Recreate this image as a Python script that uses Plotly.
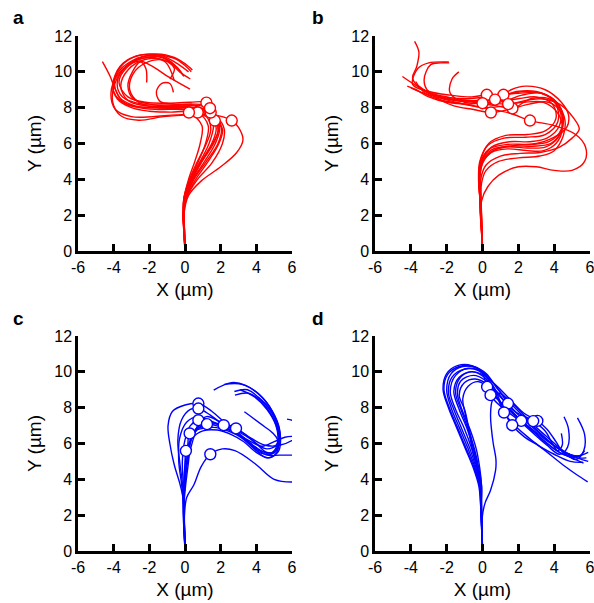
import plotly.graph_objects as go

RED = "#ff0000"
BLUE = "#0000ff"

X_TICKS = [-6, -4, -2, 0, 2, 4, 6]
X_TICK_TEXT = ["-6", "-4", "-2", "0", "2", "4", "6"]
Y_TICKS = [0, 2, 4, 6, 8, 10, 12]
Y_TICK_TEXT = ["0", "2", "4", "6", "8", "10", "12"]
PANEL_LABELS = ["a", "b", "c", "d"]

# ---- panel a: tracks (x, y in µm) and index of the marked point on each ----
A_TRACKS = [
    [(0, 0), (-0.02, 1.0), (-0.05, 2.1), (0.2, 3.1), (0.9, 3.9), (2.0, 4.7), (2.9, 5.5), (3.25, 6.2), (3.0, 6.9),
     (2.62, 7.28), (1.6, 7.6), (0.2, 7.6), (-1.2, 7.5), (-2.6, 7.3), (-3.6, 7.55), (-4.05, 8.3), (-3.95, 9.3),
     (-3.4, 10.2), (-2.4, 10.75), (-1.3, 10.8), (-0.5, 10.3), (-0.1, 9.8)],
    [(0, 0), (-0.05, 1.0), (-0.1, 2.1), (0.1, 3.0), (0.6, 4.0), (1.3, 5.0), (1.9, 6.0), (2.1, 6.8), (1.67, 7.28),
     (0.8, 7.85), (-0.5, 8.0), (-2.0, 8.0), (-3.3, 8.2), (-4.0, 8.9), (-3.8, 9.9), (-3.0, 10.6), (-1.8, 10.95),
     (-0.6, 10.75), (0.0, 10.35), (0.35, 10.0)],
    [(0, 0), (-0.04, 1.0), (-0.08, 2.1), (0.05, 3.0), (0.45, 4.0), (1.1, 5.0), (1.7, 6.0), (1.95, 6.9), (1.65, 7.5),
     (1.44, 7.73), (0.5, 8.1), (-1.0, 8.15), (-2.4, 8.2), (-3.5, 8.6), (-3.8, 9.4), (-3.3, 10.3), (-2.3, 10.85),
     (-1.2, 10.8), (-0.4, 10.2), (-0.06, 9.74)],
    [(0, 0), (-0.03, 1.0), (-0.06, 2.1), (0.0, 3.0), (0.35, 4.0), (0.9, 5.0), (1.5, 6.0), (1.75, 6.8), (1.55, 7.6),
     (1.2, 8.28), (0.3, 8.3), (-1.0, 8.25), (-2.2, 8.3), (-3.2, 8.6), (-3.7, 9.4), (-3.3, 10.2), (-2.6, 10.6),
     (-1.9, 10.35), (-0.9, 9.7), (0.28, 9.03)],
    [(0, 0), (-0.06, 1.0), (-0.12, 2.1), (-0.05, 3.0), (0.3, 4.0), (0.75, 5.0), (1.15, 6.0), (1.3, 7.0), (0.71, 7.73),
     (-0.2, 7.9), (-1.5, 7.9), (-2.6, 8.0), (-3.5, 8.35), (-3.9, 9.0), (-4.2, 9.75), (-4.63, 10.57)],
    [(0, 0), (-0.05, 1.0), (-0.1, 2.1), (-0.05, 3.0), (0.2, 4.0), (0.55, 5.0), (0.85, 6.0), (0.95, 7.0), (0.22, 7.73),
     (-0.8, 7.75), (-2.0, 7.8), (-3.0, 8.0), (-3.8, 8.5), (-4.05, 9.3), (-3.6, 10.3), (-2.8, 10.85), (-1.6, 11.0),
     (-0.6, 10.8), (0.2, 10.3), (0.41, 10.1)],
    [(0, 0), (-0.02, 1.0), (-0.05, 2.1), (0.08, 3.0), (0.5, 4.0), (1.2, 5.0), (1.85, 6.0), (2.05, 6.9), (1.7, 7.6),
     (1.4, 7.97), (0.5, 8.15), (-0.6, 8.2), (-1.4, 8.35), (-1.6, 8.9), (-1.3, 9.35), (-0.85, 9.35), (-0.65, 8.85)],
    [(0, 0), (-0.04, 1.0), (-0.08, 2.1), (0.0, 3.0), (0.4, 4.0), (0.95, 5.0), (1.6, 6.0), (1.9, 6.9), (1.65, 7.7),
     (1.3, 8.1), (0.4, 8.2), (-1.0, 8.1), (-2.0, 8.2), (-2.9, 8.5), (-3.2, 9.2), (-2.95, 10.0), (-2.5, 10.55),
     (-2.2, 10.2), (-2.15, 9.4)],
    [(0, 0), (-0.03, 1.0), (-0.07, 2.1), (0.0, 3.0), (0.3, 4.0), (0.85, 5.0), (1.35, 6.0), (1.6, 7.0), (1.4, 7.7),
     (0.2, 8.05), (-1.5, 8.0), (-2.8, 8.1), (-3.7, 8.6), (-3.95, 9.6), (-3.45, 10.5), (-2.4, 10.95), (-1.3, 10.9),
     (-0.5, 10.5), (0.2, 10.0)],
    [(0, 0), (-0.05, 1.0), (-0.09, 2.1), (0.1, 3.0), (0.7, 4.0), (1.5, 4.9), (2.1, 6.0), (2.2, 6.8), (1.85, 7.4),
     (0.6, 7.95), (-0.8, 8.05), (-2.2, 8.1), (-3.2, 8.4), (-3.6, 9.2), (-3.2, 10.1), (-2.2, 10.7), (-1.0, 10.6),
     (-0.3, 10.0), (0.3, 9.6)],
    [(0, 0), (-0.04, 1.0), (-0.1, 2.1), (-0.05, 3.0), (0.25, 4.0), (0.7, 5.0), (1.2, 6.0), (1.45, 6.8), (1.2, 7.5),
     (0.3, 7.85), (-0.6, 7.95), (-1.6, 8.0), (-2.6, 8.3), (-3.1, 9.0), (-2.9, 9.9), (-2.2, 10.5), (-1.2, 10.65),
     (-0.6, 10.2), (-0.85, 9.6)],
    [(0, 0), (-0.03, 1.0), (-0.06, 2.1), (0.02, 3.0), (0.4, 4.0), (0.95, 5.0), (1.55, 6.0), (1.85, 6.7), (1.65, 7.3),
     (0.8, 7.6), (-0.5, 7.6), (-1.8, 7.5), (-3.0, 7.5), (-3.9, 7.9), (-4.15, 8.8), (-3.8, 9.8), (-3.0, 10.5),
     (-2.0, 10.8), (-1.1, 10.55), (-0.6, 9.5)],
]
A_MARKS = [9, 8, 9, 9, 8, 8, 9, None, None, None, None, None]

# ---- panel b ----
B_TRACKS = [
    [(0, 0), (-0.03, 1.0), (-0.06, 2.0), (-0.05, 2.8), (0.3, 3.6), (0.93, 4.25), (2.0, 4.7), (3.0, 4.7), (4.0, 4.5),
     (5.0, 4.5), (5.7, 5.0), (5.75, 5.8), (5.2, 6.5), (4.0, 7.0), (2.65, 7.28), (1.5, 7.7), (0.0, 8.0), (-1.5, 8.3),
     (-2.8, 8.7), (-3.55, 9.2)],
    [(0, 0), (-0.05, 1.0), (-0.12, 2.0), (-0.15, 3.0), (-0.2, 4.0), (-0.1, 4.8), (0.4, 5.5), (1.3, 5.8), (2.5, 5.75),
     (3.5, 5.8), (4.2, 6.3), (4.5, 7.2), (4.3, 8.1), (3.6, 8.7), (2.5, 8.9), (1.6, 8.8), (1.17, 8.72), (0.2, 8.6),
     (-1.0, 8.5), (-2.2, 8.6), (-3.2, 8.9), (-3.9, 9.64), (-3.67, 10.3), (-3.55, 11.1), (-3.79, 11.7)],
    [(0, 0), (-0.04, 1.0), (-0.1, 2.0), (-0.15, 3.0), (-0.2, 4.0), (-0.05, 5.0), (0.5, 5.8), (1.5, 6.1), (2.6, 6.1),
     (3.6, 6.3), (4.3, 7.0), (4.3, 7.9), (3.7, 8.5), (2.7, 8.5), (1.67, 7.96), (0.8, 8.1), (-0.5, 8.3), (-2.0, 8.5),
     (-3.3, 9.0), (-4.47, 9.74)],
    [(0, 0), (-0.03, 1.0), (-0.08, 2.0), (-0.12, 3.0), (-0.15, 4.0), (0.0, 4.9), (0.5, 5.5), (1.4, 5.7), (2.5, 5.6),
     (3.4, 5.6), (4.1, 6.0), (4.45, 6.8), (4.2, 7.7), (3.4, 8.3), (2.3, 8.3), (1.43, 8.2), (0.5, 8.25), (-0.8, 8.4),
     (-2.0, 8.6), (-3.0, 8.9), (-3.26, 9.55), (-2.89, 10.4), (-2.33, 10.5), (-1.86, 10.5)],
    [(0, 0), (-0.05, 1.0), (-0.11, 2.0), (-0.15, 3.0), (-0.22, 4.0), (-0.15, 5.0), (0.3, 5.9), (1.2, 6.3), (2.4, 6.35),
     (3.5, 6.5), (4.2, 7.2), (4.1, 8.2), (3.3, 8.8), (2.0, 8.8), (0.9, 8.7), (0.24, 8.72), (-0.6, 8.6), (-1.8, 8.7),
     (-3.0, 8.9), (-3.9, 9.3), (-3.6, 10.2), (-3.0, 10.5), (-1.88, 10.55)],
    [(0, 0), (-0.02, 1.0), (-0.05, 2.0), (-0.08, 3.0), (-0.05, 3.8), (0.2, 4.5), (0.9, 5.0), (2.0, 5.2), (3.2, 5.3),
     (4.0, 5.6), (4.5, 6.4), (4.6, 7.3), (4.2, 8.2), (3.3, 8.8), (2.2, 8.7), (1.2, 8.35), (0.0, 8.25), (-1.0, 8.3),
     (-1.8, 8.8), (-1.7, 9.6), (-1.32, 10.0)],
    [(0, 0), (-0.04, 1.0), (-0.1, 2.0), (-0.15, 3.0), (-0.2, 4.0), (-0.1, 5.0), (0.4, 5.7), (1.4, 5.95), (2.6, 5.95),
     (3.7, 6.1), (4.4, 6.8), (4.4, 7.7), (3.7, 8.3), (2.6, 8.2), (1.5, 7.9), (0.47, 7.73), (-0.5, 7.9), (-1.6, 8.1),
     (-2.3, 8.4), (-2.9, 8.8)],
    [(0, 0), (-0.03, 1.0), (-0.07, 2.0), (-0.1, 3.0), (-0.15, 4.2), (0.1, 5.1), (0.8, 5.7), (1.9, 5.9), (3.0, 6.0),
     (3.9, 6.3), (4.7, 6.9), (4.8, 7.6), (4.4, 8.3), (3.5, 9.0), (2.4, 9.2), (1.6, 9.0), (0.7, 8.45), (-0.3, 8.4),
     (-1.5, 8.4), (-2.6, 8.6), (-3.4, 8.85), (-4.0, 9.1)],
    [(0, 0), (-0.02, 1.0), (-0.06, 2.0), (-0.1, 3.0), (-0.1, 4.0), (0.2, 4.8), (1.0, 5.3), (2.1, 5.45), (3.2, 5.5),
     (4.3, 5.8), (5.0, 6.3), (5.4, 6.8), (5.1, 7.4), (4.3, 8.2), (3.2, 8.5), (2.2, 8.35), (1.2, 8.1), (0.2, 8.0),
     (-1.0, 8.2), (-2.2, 8.4), (-3.2, 8.8), (-3.73, 9.46)],
    [(0, 0), (-0.05, 1.0), (-0.1, 2.0), (-0.12, 3.0), (-0.18, 4.0), (-0.05, 5.0), (0.5, 5.65), (1.6, 5.85), (2.8, 5.85),
     (3.8, 6.0), (4.35, 6.6), (4.5, 7.5), (4.0, 8.4), (3.0, 8.9), (1.9, 8.9), (1.0, 8.6), (0.2, 8.45), (-1.0, 8.35),
     (-1.8, 8.5), (-2.4, 8.6)],
    [(0, 0), (-0.04, 1.0), (-0.09, 2.0), (-0.13, 3.0), (-0.2, 4.0), (-0.12, 5.0), (0.35, 6.0), (1.3, 6.45), (2.5, 6.5),
     (3.5, 6.7), (4.1, 7.4), (3.9, 8.2), (3.0, 8.6), (2.0, 8.5), (1.2, 8.4), (0.3, 8.3), (-0.9, 8.2), (-2.0, 8.3),
     (-3.0, 8.6), (-3.7, 9.0), (-4.2, 9.2)],
]
B_MARKS = [14, 16, 14, 15, 15, 16, 15, 16, None, None, None]

# ---- panel c ----
C_TRACKS = [
    [(0, 0), (-0.03, 1.0), (-0.08, 2.0), (-0.12, 3.0), (-0.3, 3.8), (-0.6, 4.8), (-0.85, 6.0), (-0.95, 7.0),
     (-0.7, 7.8), (0.0, 8.15), (0.75, 8.23), (1.5, 7.8), (2.3, 7.1), (3.1, 6.5), (3.9, 5.8), (4.6, 5.35), (5.3, 5.35),
     (6.2, 5.35)],
    [(0, 0), (-0.04, 1.0), (-0.07, 2.0), (-0.1, 3.0), (-0.15, 3.8), (-0.3, 5.0), (-0.4, 6.2), (-0.2, 7.3), (0.3, 7.9),
     (0.75, 7.95), (1.4, 7.6), (2.2, 7.0), (3.0, 6.5), (3.9, 6.0), (4.6, 5.7), (5.1, 5.9), (5.3, 6.6), (5.0, 7.6),
     (4.3, 8.6), (3.4, 9.25), (2.6, 9.4), (1.61, 8.98)],
    [(0, 0), (-0.02, 1.0), (-0.06, 2.0), (-0.08, 3.0), (-0.1, 3.8), (-0.15, 5.0), (0.0, 6.2), (0.3, 7.0), (0.75, 7.3),
     (1.3, 7.3), (2.0, 7.0), (2.8, 6.6), (3.6, 6.0), (4.3, 5.45), (5.0, 5.5), (5.25, 6.3), (5.0, 7.3), (4.4, 8.2),
     (3.6, 8.8), (2.8, 8.7)],
    [(0, 0), (-0.03, 1.0), (-0.05, 2.0), (-0.05, 3.0), (0.0, 3.8), (0.1, 5.0), (0.3, 6.2), (0.7, 6.9), (1.23, 7.08),
     (1.9, 6.95), (2.6, 6.7), (3.4, 6.2), (4.2, 5.6), (4.9, 5.5), (5.2, 6.1), (5.1, 7.0), (4.6, 7.9), (3.9, 8.6),
     (3.1, 9.0)],
    [(0, 0), (-0.02, 1.0), (-0.04, 2.0), (-0.03, 3.0), (0.05, 3.8), (0.2, 5.0), (0.35, 6.2), (0.8, 6.9), (1.5, 7.15),
     (2.17, 7.02), (2.9, 6.7), (3.6, 6.3), (4.3, 5.85), (5.0, 6.1), (5.6, 6.35), (6.2, 6.4)],
    [(0, 0), (-0.03, 1.0), (-0.06, 2.0), (-0.06, 3.0), (0.0, 3.8), (0.1, 5.0), (0.3, 6.1), (0.7, 6.8), (1.4, 7.05),
     (2.2, 7.1), (2.86, 6.84), (3.4, 6.5), (4.0, 6.0), (4.6, 5.5), (5.1, 5.6), (5.3, 6.3), (5.1, 7.2), (4.7, 8.0),
     (4.1, 8.6)],
    [(0, 0), (-0.02, 1.0), (-0.05, 2.0), (-0.05, 3.0), (-0.05, 3.8), (0.0, 4.8), (0.15, 5.8), (0.26, 6.56),
     (0.8, 6.8), (1.6, 6.9), (2.4, 6.7), (3.2, 6.3), (4.0, 5.6), (4.6, 5.2), (5.2, 5.5), (5.35, 6.4), (5.0, 7.5),
     (4.3, 8.4), (3.5, 9.0), (2.77, 8.9)],
    [(0, 0), (-0.04, 1.0), (-0.07, 2.0), (-0.06, 3.0), (-0.05, 3.8), (0.0, 4.8), (0.05, 5.59), (0.4, 6.3),
     (1.0, 6.7), (1.8, 6.75), (2.6, 6.5), (3.3, 6.1), (4.0, 5.5), (4.7, 5.2), (5.15, 5.5), (5.2, 6.2), (4.9, 6.6),
     (4.45, 6.95), (3.33, 7.77)],
    [(0, 0), (-0.02, 1.0), (-0.03, 2.0), (0.1, 3.0), (0.5, 3.7), (0.9, 4.7), (1.42, 5.4), (2.1, 5.7), (2.8, 5.6),
     (3.9, 4.9), (5.0, 4.0), (6.1, 3.85)],
    [(0, 0), (-0.03, 1.0), (-0.05, 2.0), (-0.04, 3.0), (0.0, 3.8), (0.15, 5.0), (0.45, 6.2), (0.75, 7.1), (1.2, 7.5),
     (2.0, 7.2), (2.9, 6.8), (3.7, 6.3), (4.5, 5.9), (5.3, 5.9), (6.3, 6.4), (6.6, 7.0), (5.72, 7.36)],
    [(0, 0), (-0.05, 1.0), (-0.1, 2.0), (-0.12, 3.0), (-0.2, 3.8), (-0.35, 5.0), (-0.3, 6.3), (0.1, 7.2), (0.75, 7.5),
     (1.5, 7.2), (2.4, 6.8), (3.3, 6.3), (4.1, 5.7), (4.8, 5.4), (5.25, 5.8), (5.3, 6.8), (4.9, 7.8), (4.2, 8.7),
     (3.2, 9.3), (2.2, 9.3)],
]
C_MARKS = [10, 9, 8, 8, 9, 10, 7, 6, 6, None, None]

# ---- panel d ----
D_TRACKS = [
    [(0, 0), (-0.04, 1.0), (-0.08, 2.0), (-0.12, 2.8), (-0.2, 3.6), (-0.5, 4.6), (-0.95, 5.7), (-1.45, 6.9),
     (-1.9, 8.0), (-2.2, 9.0), (-2.0, 9.9), (-1.4, 10.35), (-0.6, 10.35), (0.0, 9.9), (0.26, 9.16), (0.8, 8.5),
     (1.6, 7.8), (2.5, 7.0), (3.4, 6.2), (4.3, 5.5), (5.0, 5.2), (5.64, 4.9)],
    [(0, 0), (-0.03, 1.0), (-0.07, 2.0), (-0.1, 2.8), (-0.15, 3.6), (-0.4, 4.6), (-0.8, 5.7), (-1.3, 6.9),
     (-1.75, 8.0), (-2.0, 9.0), (-1.75, 9.9), (-1.1, 10.3), (-0.3, 10.2), (0.3, 9.6), (0.45, 8.7), (1.1, 8.0),
     (1.9, 7.4), (2.8, 6.6), (3.6, 5.9), (4.3, 5.4), (4.75, 5.8), (4.8, 6.8), (4.55, 7.49)],
    [(0, 0), (-0.02, 1.0), (-0.05, 2.0), (-0.08, 2.8), (-0.1, 3.6), (-0.3, 4.6), (-0.6, 5.7), (-1.0, 6.8),
     (-1.5, 7.9), (-1.8, 8.9), (-1.5, 9.8), (-0.8, 10.2), (0.0, 10.0), (0.6, 9.4), (1.1, 8.7), (1.42, 8.23),
     (2.0, 7.6), (2.8, 6.9), (3.6, 6.2), (4.4, 5.6), (5.2, 5.1), (5.65, 5.6), (5.7, 6.5), (5.3, 7.43)],
    [(0, 0), (-0.04, 1.0), (-0.06, 2.0), (-0.09, 2.8), (-0.1, 3.6), (-0.25, 4.6), (-0.5, 5.7), (-0.85, 6.8),
     (-1.3, 7.9), (-1.6, 8.9), (-1.3, 9.7), (-0.6, 10.0), (0.1, 9.7), (0.6, 9.0), (0.9, 8.4), (1.2, 7.73),
     (1.8, 7.0), (2.6, 6.3), (3.5, 5.6), (4.5, 4.8), (5.2, 4.3), (5.87, 3.86)],
    [(0, 0), (-0.02, 1.0), (-0.04, 2.0), (-0.05, 2.8), (-0.05, 3.6), (-0.15, 4.6), (-0.35, 5.7), (-0.7, 6.8),
     (-1.15, 7.9), (-1.4, 8.8), (-1.2, 9.5), (-0.5, 9.8), (0.2, 9.5), (0.8, 8.9), (1.5, 8.0), (2.16, 7.26),
     (2.9, 6.6), (3.7, 5.9), (4.5, 5.4), (5.2, 5.2), (5.8, 5.2)],
    [(0, 0), (-0.03, 1.0), (-0.06, 2.0), (-0.1, 2.8), (-0.1, 3.6), (-0.35, 4.6), (-0.7, 5.7), (-1.15, 6.8),
     (-1.6, 7.9), (-1.9, 8.8), (-1.7, 9.7), (-1.0, 10.15), (-0.2, 10.05), (0.6, 9.2), (1.0, 8.3), (1.35, 7.5),
     (1.66, 7.02), (2.3, 6.4), (3.1, 5.9), (4.0, 5.4), (4.9, 5.0), (5.6, 4.95)],
    [(0, 0), (-0.02, 1.0), (-0.05, 2.0), (-0.06, 2.8), (-0.05, 3.6), (-0.2, 4.6), (-0.45, 5.7), (-0.8, 6.8),
     (-1.2, 7.9), (-1.5, 8.8), (-1.3, 9.6), (-0.7, 10.0), (0.0, 9.85), (0.7, 9.3), (1.5, 8.5), (2.3, 7.7),
     (3.06, 7.26), (3.6, 6.8), (4.1, 6.1), (4.5, 5.5), (4.9, 5.3), (5.5, 5.3)],
    [(0, 0), (-0.03, 1.0), (-0.05, 2.0), (-0.07, 2.8), (-0.08, 3.6), (-0.25, 4.6), (-0.5, 5.7), (-0.75, 6.8),
     (-1.0, 7.9), (-1.3, 8.7), (-1.0, 9.4), (-0.4, 9.6), (0.3, 9.3), (1.0, 8.6), (1.8, 7.8), (2.83, 7.25),
     (3.5, 6.7), (3.9, 6.0), (4.2, 5.6), (4.45, 5.9), (4.4, 6.56)],
    [(0, 0), (-0.02, 1.0), (0.0, 2.0), (0.15, 2.7), (0.45, 3.39), (0.73, 4.5), (0.75, 5.1), (0.6, 6.0), (0.5, 6.8),
     (0.45, 7.6), (0.55, 8.4), (0.9, 8.8), (1.5, 8.4), (2.2, 7.7), (3.0, 6.9), (3.8, 6.2), (4.5, 5.6), (5.3, 5.2),
     (5.9, 5.0)],
    [(0, 0), (-0.04, 1.0), (-0.07, 2.0), (-0.09, 2.8), (-0.1, 3.6), (-0.3, 4.6), (-0.55, 5.6), (-0.75, 6.6),
     (-0.95, 7.6), (-1.1, 8.5), (-0.8, 9.2), (-0.2, 9.45), (0.45, 9.0), (1.2, 8.1), (2.0, 7.4), (2.9, 6.7),
     (3.8, 6.0), (4.6, 5.5), (5.3, 5.3), (5.9, 5.5)],
    [(0, 0), (-0.03, 1.0), (-0.08, 2.0), (-0.11, 2.8), (-0.15, 3.6), (-0.45, 4.6), (-0.9, 5.7), (-1.4, 6.9),
     (-1.85, 8.0), (-2.15, 9.0), (-1.95, 9.85), (-1.3, 10.3), (-0.5, 10.3), (0.2, 9.9), (0.8, 9.1), (1.6, 8.2),
     (2.4, 7.4), (3.2, 6.6), (4.0, 5.9), (4.8, 5.4), (5.4, 5.3), (5.7, 5.6)],
]
D_MARKS = [14, 14, 15, 15, 15, 16, 16, 15, None, None, None]

PANELS = [
    (A_TRACKS, A_MARKS, RED),
    (B_TRACKS, B_MARKS, RED),
    (C_TRACKS, C_MARKS, BLUE),
    (D_TRACKS, D_MARKS, BLUE),
]

W, H = 594, 603
# subplot rectangles in pixels: (left, right, top, bottom)
RECTS = [(78, 292, 36, 251), (375, 590, 36, 251), (78, 292, 336, 551), (375, 590, 336, 551)]
LETTER_POS = [(18, 18), (318, 18), (18, 318), (318, 318)]

FONT = "Liberation Sans, Arial, sans-serif"

fig = go.Figure()
for i, (tracks, marks, color) in enumerate(PANELS):
    sfx = "" if i == 0 else str(i + 1)
    for tr in tracks:
        fig.add_trace(go.Scatter(
            x=[p[0] for p in tr], y=[p[1] for p in tr], mode="lines",
            line=dict(color=color, width=1.4, shape="spline", smoothing=1.0),
            xaxis="x" + sfx, yaxis="y" + sfx, hoverinfo="skip", showlegend=False))
    mx = [tr[m][0] for tr, m in zip(tracks, marks) if m is not None]
    my = [tr[m][1] for tr, m in zip(tracks, marks) if m is not None]
    fig.add_trace(go.Scatter(
        x=mx, y=my, mode="markers",
        marker=dict(symbol="circle", size=11, color="white", line=dict(color=color, width=1.4)),
        xaxis="x" + sfx, yaxis="y" + sfx, hoverinfo="skip", showlegend=False))

axis_common = dict(
    showline=True, linecolor="black", linewidth=2.5, mirror=False,
    ticks="inside", ticklen=7, tickwidth=2.5, tickcolor="black",
    showgrid=False, zeroline=False, fixedrange=True, automargin=False,
    ticklabeloverflow="allow",
    tickfont=dict(family=FONT, size=16, color="black"),
)

layout = dict(
    width=W, height=H, margin=dict(l=0, r=0, t=0, b=0, autoexpand=False),
    paper_bgcolor="white", plot_bgcolor="white",
    showlegend=False, annotations=[],
)
for i, (l, r, t, b) in enumerate(RECTS):
    sfx = "" if i == 0 else str(i + 1)
    layout["xaxis" + sfx] = dict(
        axis_common, domain=[l / W, r / W], range=[-6, 6],
        tickmode="array", tickvals=X_TICKS, ticktext=X_TICK_TEXT,
        anchor="y" + sfx,
        title=dict(text="X (µm)", font=dict(family=FONT, size=19, color="black"), standoff=8))
    layout["yaxis" + sfx] = dict(
        axis_common, domain=[1 - b / H, 1 - t / H], range=[0, 12],
        tickmode="array", tickvals=Y_TICKS, ticktext=Y_TICK_TEXT,
        anchor="x" + sfx,
        title=dict(text="Y (µm)", font=dict(family=FONT, size=19, color="black"), standoff=8))

for lab, (px, py) in zip(PANEL_LABELS, LETTER_POS):
    layout["annotations"].append(dict(
        text="<b>%s</b>" % lab, x=px / W, y=1 - py / H, xref="paper", yref="paper",
        xanchor="center", yanchor="middle", showarrow=False,
        font=dict(family=FONT, size=19, color="black")))

fig.update_layout(**layout)
fig.write_html("out.html")
